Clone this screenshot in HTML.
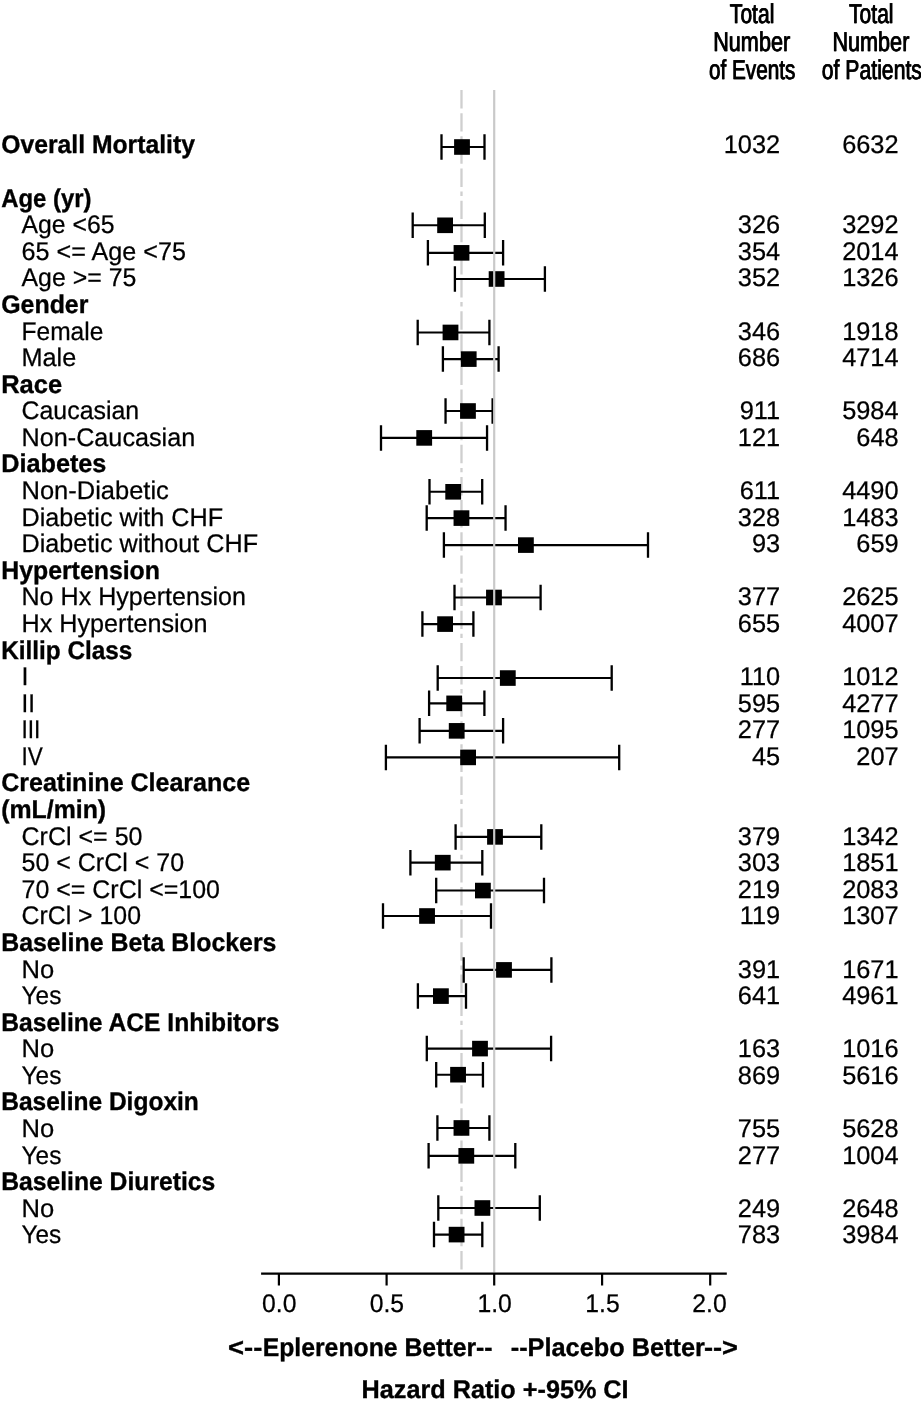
<!DOCTYPE html>
<html><head><meta charset="utf-8"><title>Forest plot</title>
<style>
html,body{margin:0;padding:0;background:#fff;}
svg{display:block;will-change:transform;filter:blur(0.35px);}
text{font-family:"Liberation Sans",sans-serif;fill:#000;stroke:#000;stroke-width:0.25px;text-rendering:geometricPrecision;}
.b{font-weight:bold;stroke-width:0.35px;}
.h{stroke-width:0.35px;}
</style></head><body>
<svg width="921" height="1404" viewBox="0 0 921 1404">
<rect x="0" y="0" width="921" height="1404" fill="#fff"/>
<line x1="461.5" y1="90.1" x2="461.5" y2="1269.5" stroke="#cfcfcf" stroke-width="2.3" stroke-dasharray="18.45 4.6 18.45 4.6 4.4 4.78"/>
<text class="b" font-size="25.5" transform="translate(1.20,153.40) scale(0.9693,1)">Overall Mortality</text>
<text font-size="25.5" text-anchor="end" transform="translate(780.20,153.40) scale(0.9950,1)">1032</text>
<text font-size="25.5" text-anchor="end" transform="translate(898.60,153.40) scale(0.9950,1)">6632</text>
<path d="M441.50 147.00H484.50" stroke="#000" stroke-width="2.1" fill="none"/><path d="M441.50 134.25V159.75M484.50 134.25V159.75" stroke="#000" stroke-width="2.3" fill="none"/><rect x="454.10" y="139.20" width="15.8" height="15.6" fill="#000"/>
<text class="b" font-size="25.5" transform="translate(1.20,206.57) scale(0.9376,1)">Age (yr)</text>
<text font-size="25.5" transform="translate(21.50,233.16) scale(0.9721,1)">Age &lt;65</text>
<text font-size="25.5" text-anchor="end" transform="translate(780.20,233.16) scale(0.9950,1)">326</text>
<text font-size="25.5" text-anchor="end" transform="translate(898.60,233.16) scale(0.9950,1)">3292</text>
<path d="M412.70 225.30H484.80" stroke="#000" stroke-width="2.1" fill="none"/><path d="M412.70 212.55V238.05M484.80 212.55V238.05" stroke="#000" stroke-width="2.3" fill="none"/><rect x="437.20" y="217.50" width="15.8" height="15.6" fill="#000"/>
<text font-size="25.5" transform="translate(21.50,259.74) scale(0.9877,1)">65 &lt;= Age &lt;75</text>
<text font-size="25.5" text-anchor="end" transform="translate(780.20,259.74) scale(0.9950,1)">354</text>
<text font-size="25.5" text-anchor="end" transform="translate(898.60,259.74) scale(0.9950,1)">2014</text>
<path d="M427.90 252.85H503.10" stroke="#000" stroke-width="2.1" fill="none"/><path d="M427.90 240.10V265.60M503.10 240.10V265.60" stroke="#000" stroke-width="2.3" fill="none"/><rect x="453.60" y="245.05" width="15.8" height="15.6" fill="#000"/>
<text font-size="25.5" transform="translate(21.50,286.33) scale(0.9756,1)">Age &gt;= 75</text>
<text font-size="25.5" text-anchor="end" transform="translate(780.20,286.33) scale(0.9950,1)">352</text>
<text font-size="25.5" text-anchor="end" transform="translate(898.60,286.33) scale(0.9950,1)">1326</text>
<path d="M454.90 279.00H544.90" stroke="#000" stroke-width="2.1" fill="none"/><path d="M454.90 266.25V291.75M544.90 266.25V291.75" stroke="#000" stroke-width="2.3" fill="none"/><rect x="488.70" y="271.20" width="15.8" height="15.6" fill="#000"/>
<text class="b" font-size="25.5" transform="translate(1.20,312.91) scale(0.9768,1)">Gender</text>
<text font-size="25.5" transform="translate(21.50,339.50) scale(0.9625,1)">Female</text>
<text font-size="25.5" text-anchor="end" transform="translate(780.20,339.50) scale(0.9950,1)">346</text>
<text font-size="25.5" text-anchor="end" transform="translate(898.60,339.50) scale(0.9950,1)">1918</text>
<path d="M417.70 332.45H489.40" stroke="#000" stroke-width="2.1" fill="none"/><path d="M417.70 319.70V345.20M489.40 319.70V345.20" stroke="#000" stroke-width="2.3" fill="none"/><rect x="442.60" y="324.65" width="15.8" height="15.6" fill="#000"/>
<text font-size="25.5" transform="translate(21.50,366.08) scale(0.9911,1)">Male</text>
<text font-size="25.5" text-anchor="end" transform="translate(780.20,366.08) scale(0.9950,1)">686</text>
<text font-size="25.5" text-anchor="end" transform="translate(898.60,366.08) scale(0.9950,1)">4714</text>
<path d="M442.90 359.10H498.60" stroke="#000" stroke-width="2.1" fill="none"/><path d="M442.90 346.35V371.85M498.60 346.35V371.85" stroke="#000" stroke-width="2.3" fill="none"/><rect x="460.80" y="351.30" width="15.8" height="15.6" fill="#000"/>
<text class="b" font-size="25.5" transform="translate(1.20,392.67) scale(1.0000,1)">Race</text>
<text font-size="25.5" transform="translate(21.50,419.25) scale(0.9768,1)">Caucasian</text>
<text font-size="25.5" text-anchor="end" transform="translate(780.20,419.25) scale(0.9950,1)">911</text>
<text font-size="25.5" text-anchor="end" transform="translate(898.60,419.25) scale(0.9950,1)">5984</text>
<path d="M445.55 411.00H492.60" stroke="#000" stroke-width="2.1" fill="none"/><path d="M445.55 398.25V423.75M492.60 398.25V423.75" stroke="#000" stroke-width="2.3" fill="none"/><rect x="460.06" y="403.20" width="15.8" height="15.6" fill="#000"/>
<text font-size="25.5" transform="translate(21.50,445.84) scale(0.9885,1)">Non-Caucasian</text>
<text font-size="25.5" text-anchor="end" transform="translate(780.20,445.84) scale(0.9950,1)">121</text>
<text font-size="25.5" text-anchor="end" transform="translate(898.60,445.84) scale(0.9950,1)">648</text>
<path d="M381.00 437.90H487.05" stroke="#000" stroke-width="2.1" fill="none"/><path d="M381.00 425.15V450.65M487.05 425.15V450.65" stroke="#000" stroke-width="2.3" fill="none"/><rect x="416.30" y="430.10" width="15.8" height="15.6" fill="#000"/>
<text class="b" font-size="25.5" transform="translate(1.20,472.42) scale(0.9898,1)">Diabetes</text>
<text font-size="25.5" transform="translate(21.50,499.00) scale(0.9996,1)">Non-Diabetic</text>
<text font-size="25.5" text-anchor="end" transform="translate(780.20,499.00) scale(0.9950,1)">611</text>
<text font-size="25.5" text-anchor="end" transform="translate(898.60,499.00) scale(0.9950,1)">4490</text>
<path d="M429.50 491.80H482.20" stroke="#000" stroke-width="2.1" fill="none"/><path d="M429.50 479.05V504.55M482.20 479.05V504.55" stroke="#000" stroke-width="2.3" fill="none"/><rect x="445.30" y="484.00" width="15.8" height="15.6" fill="#000"/>
<text font-size="25.5" transform="translate(21.50,525.59) scale(0.9879,1)">Diabetic with CHF</text>
<text font-size="25.5" text-anchor="end" transform="translate(780.20,525.59) scale(0.9950,1)">328</text>
<text font-size="25.5" text-anchor="end" transform="translate(898.60,525.59) scale(0.9950,1)">1483</text>
<path d="M426.70 518.10H505.55" stroke="#000" stroke-width="2.1" fill="none"/><path d="M426.70 505.35V530.85M505.55 505.35V530.85" stroke="#000" stroke-width="2.3" fill="none"/><rect x="453.55" y="510.30" width="15.8" height="15.6" fill="#000"/>
<text font-size="25.5" transform="translate(21.50,552.18) scale(0.9876,1)">Diabetic without CHF</text>
<text font-size="25.5" text-anchor="end" transform="translate(780.20,552.18) scale(0.9950,1)">93</text>
<text font-size="25.5" text-anchor="end" transform="translate(898.60,552.18) scale(0.9950,1)">659</text>
<path d="M443.90 545.10H648.00" stroke="#000" stroke-width="2.1" fill="none"/><path d="M443.90 532.35V557.85M648.00 532.35V557.85" stroke="#000" stroke-width="2.3" fill="none"/><rect x="518.00" y="537.30" width="15.8" height="15.6" fill="#000"/>
<text class="b" font-size="25.5" transform="translate(1.20,578.76) scale(0.9743,1)">Hypertension</text>
<text font-size="25.5" transform="translate(21.50,605.35) scale(0.9836,1)">No Hx Hypertension</text>
<text font-size="25.5" text-anchor="end" transform="translate(780.20,605.35) scale(0.9950,1)">377</text>
<text font-size="25.5" text-anchor="end" transform="translate(898.60,605.35) scale(0.9950,1)">2625</text>
<path d="M454.50 597.50H540.60" stroke="#000" stroke-width="2.1" fill="none"/><path d="M454.50 584.75V610.25M540.60 584.75V610.25" stroke="#000" stroke-width="2.3" fill="none"/><rect x="486.06" y="589.70" width="15.8" height="15.6" fill="#000"/>
<text font-size="25.5" transform="translate(21.50,631.93) scale(0.9874,1)">Hx Hypertension</text>
<text font-size="25.5" text-anchor="end" transform="translate(780.20,631.93) scale(0.9950,1)">655</text>
<text font-size="25.5" text-anchor="end" transform="translate(898.60,631.93) scale(0.9950,1)">4007</text>
<path d="M422.40 624.10H473.40" stroke="#000" stroke-width="2.1" fill="none"/><path d="M422.40 611.35V636.85M473.40 611.35V636.85" stroke="#000" stroke-width="2.3" fill="none"/><rect x="437.20" y="616.30" width="15.8" height="15.6" fill="#000"/>
<text class="b" font-size="25.5" transform="translate(1.20,658.51) scale(0.9544,1)">Killip Class</text>
<text font-size="25.5" transform="translate(21.50,685.10) scale(0.9759,1)">I</text>
<text font-size="25.5" text-anchor="end" transform="translate(780.20,685.10) scale(0.9950,1)">110</text>
<text font-size="25.5" text-anchor="end" transform="translate(898.60,685.10) scale(0.9950,1)">1012</text>
<path d="M437.70 678.05H611.70" stroke="#000" stroke-width="2.1" fill="none"/><path d="M437.70 665.30V690.80M611.70 665.30V690.80" stroke="#000" stroke-width="2.3" fill="none"/><rect x="499.90" y="670.25" width="15.8" height="15.6" fill="#000"/>
<text font-size="25.5" transform="translate(21.50,711.68) scale(0.9476,1)">II</text>
<text font-size="25.5" text-anchor="end" transform="translate(780.20,711.68) scale(0.9950,1)">595</text>
<text font-size="25.5" text-anchor="end" transform="translate(898.60,711.68) scale(0.9950,1)">4277</text>
<path d="M429.10 703.35H484.40" stroke="#000" stroke-width="2.1" fill="none"/><path d="M429.10 690.60V716.10M484.40 690.60V716.10" stroke="#000" stroke-width="2.3" fill="none"/><rect x="446.30" y="695.55" width="15.8" height="15.6" fill="#000"/>
<text font-size="25.5" transform="translate(21.50,738.27) scale(0.8895,1)">III</text>
<text font-size="25.5" text-anchor="end" transform="translate(780.20,738.27) scale(0.9950,1)">277</text>
<text font-size="25.5" text-anchor="end" transform="translate(898.60,738.27) scale(0.9950,1)">1095</text>
<path d="M419.60 730.85H503.10" stroke="#000" stroke-width="2.1" fill="none"/><path d="M419.60 718.10V743.60M503.10 718.10V743.60" stroke="#000" stroke-width="2.3" fill="none"/><rect x="448.80" y="723.05" width="15.8" height="15.6" fill="#000"/>
<text font-size="25.5" transform="translate(21.50,764.86) scale(0.8861,1)">IV</text>
<text font-size="25.5" text-anchor="end" transform="translate(780.20,764.86) scale(0.9950,1)">45</text>
<text font-size="25.5" text-anchor="end" transform="translate(898.60,764.86) scale(0.9950,1)">207</text>
<path d="M385.90 757.40H619.20" stroke="#000" stroke-width="2.1" fill="none"/><path d="M385.90 744.65V770.15M619.20 744.65V770.15" stroke="#000" stroke-width="2.3" fill="none"/><rect x="460.20" y="749.60" width="15.8" height="15.6" fill="#000"/>
<text class="b" font-size="25.5" transform="translate(1.20,791.44) scale(0.9812,1)">Creatinine Clearance</text>
<text class="b" font-size="25.5" transform="translate(1.20,818.02) scale(0.9743,1)">(mL/min)</text>
<text font-size="25.5" transform="translate(21.50,844.61) scale(0.9816,1)">CrCl &lt;= 50</text>
<text font-size="25.5" text-anchor="end" transform="translate(780.20,844.61) scale(0.9950,1)">379</text>
<text font-size="25.5" text-anchor="end" transform="translate(898.60,844.61) scale(0.9950,1)">1342</text>
<path d="M455.60 836.90H541.30" stroke="#000" stroke-width="2.1" fill="none"/><path d="M455.60 824.15V849.65M541.30 824.15V849.65" stroke="#000" stroke-width="2.3" fill="none"/><rect x="487.10" y="829.10" width="15.8" height="15.6" fill="#000"/>
<text font-size="25.5" transform="translate(21.50,871.20) scale(0.9801,1)">50 &lt; CrCl &lt; 70</text>
<text font-size="25.5" text-anchor="end" transform="translate(780.20,871.20) scale(0.9950,1)">303</text>
<text font-size="25.5" text-anchor="end" transform="translate(898.60,871.20) scale(0.9950,1)">1851</text>
<path d="M410.40 862.65H482.30" stroke="#000" stroke-width="2.1" fill="none"/><path d="M410.40 849.90V875.40M482.30 849.90V875.40" stroke="#000" stroke-width="2.3" fill="none"/><rect x="434.85" y="854.85" width="15.8" height="15.6" fill="#000"/>
<text font-size="25.5" transform="translate(21.50,897.78) scale(0.9790,1)">70 &lt;= CrCl &lt;=100</text>
<text font-size="25.5" text-anchor="end" transform="translate(780.20,897.78) scale(0.9950,1)">219</text>
<text font-size="25.5" text-anchor="end" transform="translate(898.60,897.78) scale(0.9950,1)">2083</text>
<path d="M436.20 890.55H544.00" stroke="#000" stroke-width="2.1" fill="none"/><path d="M436.20 877.80V903.30M544.00 877.80V903.30" stroke="#000" stroke-width="2.3" fill="none"/><rect x="475.00" y="882.75" width="15.8" height="15.6" fill="#000"/>
<text font-size="25.5" transform="translate(21.50,924.37) scale(0.9750,1)">CrCl &gt; 100</text>
<text font-size="25.5" text-anchor="end" transform="translate(780.20,924.37) scale(0.9950,1)">119</text>
<text font-size="25.5" text-anchor="end" transform="translate(898.60,924.37) scale(0.9950,1)">1307</text>
<path d="M383.00 916.00H491.00" stroke="#000" stroke-width="2.1" fill="none"/><path d="M383.00 903.25V928.75M491.00 903.25V928.75" stroke="#000" stroke-width="2.3" fill="none"/><rect x="419.15" y="908.20" width="15.8" height="15.6" fill="#000"/>
<text class="b" font-size="25.5" transform="translate(1.20,950.95) scale(0.9758,1)">Baseline Beta Blockers</text>
<text font-size="25.5" transform="translate(21.50,977.53) scale(1.0016,1)">No</text>
<text font-size="25.5" text-anchor="end" transform="translate(780.20,977.53) scale(0.9950,1)">391</text>
<text font-size="25.5" text-anchor="end" transform="translate(898.60,977.53) scale(0.9950,1)">1671</text>
<path d="M463.70 969.90H551.40" stroke="#000" stroke-width="2.1" fill="none"/><path d="M463.70 957.15V982.65M551.40 957.15V982.65" stroke="#000" stroke-width="2.3" fill="none"/><rect x="496.10" y="962.10" width="15.8" height="15.6" fill="#000"/>
<text font-size="25.5" transform="translate(21.50,1004.12) scale(0.9581,1)">Yes</text>
<text font-size="25.5" text-anchor="end" transform="translate(780.20,1004.12) scale(0.9950,1)">641</text>
<text font-size="25.5" text-anchor="end" transform="translate(898.60,1004.12) scale(0.9950,1)">4961</text>
<path d="M417.90 996.10H466.00" stroke="#000" stroke-width="2.1" fill="none"/><path d="M417.90 983.35V1008.85M466.00 983.35V1008.85" stroke="#000" stroke-width="2.3" fill="none"/><rect x="433.00" y="988.30" width="15.8" height="15.6" fill="#000"/>
<text class="b" font-size="25.5" transform="translate(1.20,1030.71) scale(0.9660,1)">Baseline ACE Inhibitors</text>
<text font-size="25.5" transform="translate(21.50,1057.29) scale(1.0016,1)">No</text>
<text font-size="25.5" text-anchor="end" transform="translate(780.20,1057.29) scale(0.9950,1)">163</text>
<text font-size="25.5" text-anchor="end" transform="translate(898.60,1057.29) scale(0.9950,1)">1016</text>
<path d="M426.80 1048.60H551.10" stroke="#000" stroke-width="2.1" fill="none"/><path d="M426.80 1035.85V1061.35M551.10 1035.85V1061.35" stroke="#000" stroke-width="2.3" fill="none"/><rect x="472.10" y="1040.80" width="15.8" height="15.6" fill="#000"/>
<text font-size="25.5" transform="translate(21.50,1083.88) scale(0.9581,1)">Yes</text>
<text font-size="25.5" text-anchor="end" transform="translate(780.20,1083.88) scale(0.9950,1)">869</text>
<text font-size="25.5" text-anchor="end" transform="translate(898.60,1083.88) scale(0.9950,1)">5616</text>
<path d="M436.20 1074.70H482.95" stroke="#000" stroke-width="2.1" fill="none"/><path d="M436.20 1061.95V1087.45M482.95 1061.95V1087.45" stroke="#000" stroke-width="2.3" fill="none"/><rect x="450.16" y="1066.90" width="15.8" height="15.6" fill="#000"/>
<text class="b" font-size="25.5" transform="translate(1.20,1110.46) scale(0.9618,1)">Baseline Digoxin</text>
<text font-size="25.5" transform="translate(21.50,1137.05) scale(1.0016,1)">No</text>
<text font-size="25.5" text-anchor="end" transform="translate(780.20,1137.05) scale(0.9950,1)">755</text>
<text font-size="25.5" text-anchor="end" transform="translate(898.60,1137.05) scale(0.9950,1)">5628</text>
<path d="M437.40 1127.95H489.40" stroke="#000" stroke-width="2.1" fill="none"/><path d="M437.40 1115.20V1140.70M489.40 1115.20V1140.70" stroke="#000" stroke-width="2.3" fill="none"/><rect x="453.55" y="1120.15" width="15.8" height="15.6" fill="#000"/>
<text font-size="25.5" transform="translate(21.50,1163.63) scale(0.9581,1)">Yes</text>
<text font-size="25.5" text-anchor="end" transform="translate(780.20,1163.63) scale(0.9950,1)">277</text>
<text font-size="25.5" text-anchor="end" transform="translate(898.60,1163.63) scale(0.9950,1)">1004</text>
<path d="M428.60 1155.85H515.30" stroke="#000" stroke-width="2.1" fill="none"/><path d="M428.60 1143.10V1168.60M515.30 1143.10V1168.60" stroke="#000" stroke-width="2.3" fill="none"/><rect x="458.40" y="1148.05" width="15.8" height="15.6" fill="#000"/>
<text class="b" font-size="25.5" transform="translate(1.20,1190.22) scale(0.9683,1)">Baseline Diuretics</text>
<text font-size="25.5" transform="translate(21.50,1216.80) scale(1.0016,1)">No</text>
<text font-size="25.5" text-anchor="end" transform="translate(780.20,1216.80) scale(0.9950,1)">249</text>
<text font-size="25.5" text-anchor="end" transform="translate(898.60,1216.80) scale(0.9950,1)">2648</text>
<path d="M438.30 1208.00H539.80" stroke="#000" stroke-width="2.1" fill="none"/><path d="M438.30 1195.25V1220.75M539.80 1195.25V1220.75" stroke="#000" stroke-width="2.3" fill="none"/><rect x="474.50" y="1200.20" width="15.8" height="15.6" fill="#000"/>
<text font-size="25.5" transform="translate(21.50,1243.39) scale(0.9556,1)">Yes</text>
<text font-size="25.5" text-anchor="end" transform="translate(780.20,1243.39) scale(0.9950,1)">783</text>
<text font-size="25.5" text-anchor="end" transform="translate(898.60,1243.39) scale(0.9950,1)">3984</text>
<path d="M434.00 1234.60H482.30" stroke="#000" stroke-width="2.1" fill="none"/><path d="M434.00 1221.85V1247.35M482.30 1221.85V1247.35" stroke="#000" stroke-width="2.3" fill="none"/><rect x="448.70" y="1226.80" width="15.8" height="15.6" fill="#000"/>
<line x1="494.2" y1="90.1" x2="494.2" y2="1272.5" stroke="#c9c9c9" stroke-width="2.2"/>
<path d="M261.1 1273.7H726.8" stroke="#000" stroke-width="2.2" fill="none"/>
<path d="M278.9 1273.7V1285.5" stroke="#000" stroke-width="2.2" fill="none"/><text font-size="25.5" text-anchor="middle" transform="translate(279.30,1311.90) scale(0.9700,1)">0.0</text>
<path d="M386.6 1273.7V1285.5" stroke="#000" stroke-width="2.2" fill="none"/><text font-size="25.5" text-anchor="middle" transform="translate(386.85,1311.90) scale(0.9700,1)">0.5</text>
<path d="M494.2 1273.7V1285.5" stroke="#000" stroke-width="2.2" fill="none"/><text font-size="25.5" text-anchor="middle" transform="translate(494.60,1311.90) scale(0.9700,1)">1.0</text>
<path d="M602.1 1273.7V1285.5" stroke="#000" stroke-width="2.2" fill="none"/><text font-size="25.5" text-anchor="middle" transform="translate(602.50,1311.90) scale(0.9700,1)">1.5</text>
<path d="M710.2 1273.7V1285.5" stroke="#000" stroke-width="2.2" fill="none"/><text font-size="25.5" text-anchor="middle" transform="translate(709.45,1311.90) scale(0.9700,1)">2.0</text>
<text class="b" font-size="25.5" transform="translate(228.00,1355.85) scale(1.0750,1)">&lt;--</text>
<text class="b" font-size="25.5" transform="translate(262.64,1355.85) scale(0.9717,1)">Eplerenone Better--</text>
<text class="b" font-size="25.5" transform="translate(510.70,1355.85) scale(0.9930,1)">--Placebo Better</text>
<text class="b" font-size="25.5" transform="translate(704.00,1355.85) scale(1.0660,1)">--&gt;</text>
<text class="b" font-size="25.5" transform="translate(361.60,1398.00) scale(0.9890,1)">Hazard Ratio +-95% CI</text>
<text font-size="27.4" transform="translate(729.60,22.75) scale(0.7689,1)" class="h">Total</text>
<text font-size="27.4" transform="translate(730.10,22.75) scale(0.7689,1)" class="h">Total</text>
<text font-size="27.4" transform="translate(712.95,50.80) scale(0.7899,1)" class="h">Number</text>
<text font-size="27.4" transform="translate(713.45,50.80) scale(0.7899,1)" class="h">Number</text>
<text font-size="27.4" transform="translate(708.80,78.50) scale(0.7558,1)" class="h">of Events</text>
<text font-size="27.4" transform="translate(709.30,78.50) scale(0.7558,1)" class="h">of Events</text>
<text font-size="27.4" transform="translate(848.80,22.75) scale(0.7689,1)" class="h">Total</text>
<text font-size="27.4" transform="translate(849.30,22.75) scale(0.7689,1)" class="h">Total</text>
<text font-size="27.4" transform="translate(832.15,50.80) scale(0.7899,1)" class="h">Number</text>
<text font-size="27.4" transform="translate(832.65,50.80) scale(0.7899,1)" class="h">Number</text>
<text font-size="27.4" transform="translate(821.50,78.50) scale(0.7739,1)" class="h">of Patients</text>
<text font-size="27.4" transform="translate(822.00,78.50) scale(0.7739,1)" class="h">of Patients</text>
</svg>
</body></html>
